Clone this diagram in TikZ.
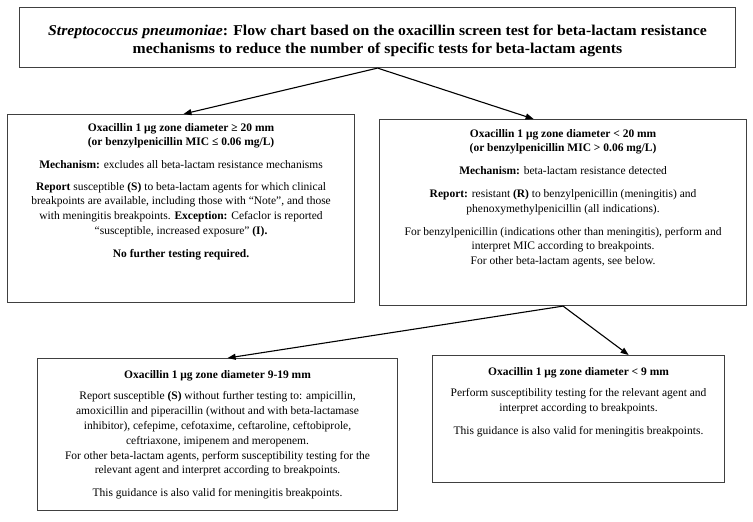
\documentclass[tikz,border=0pt]{standalone}
\usepackage{fontspec}
\setmainfont{Liberation Serif}
\newfontfamily\titlefont[FakeStretch=1.05]{Liberation Serif}
\usetikzlibrary{arrows.meta,calc}
\begin{document}
\begin{tikzpicture}[x=1pt,y=-1pt,
  box/.style={draw=black!75, line width=1.1pt, inner sep=0pt, anchor=north west},
  txt/.style={inner sep=0pt, align=center, anchor=north, font=\fontsize{11.5}{14.8}\selectfont},
  arr/.style={-{Triangle[length=8pt,width=6pt]}, line width=1.1pt, black}]
\fill[white] (0,0) rectangle (753,522);
\useasboundingbox (0,0) rectangle (753,522);

% boxes
\node[box, minimum width=716pt, minimum height=60pt] (T) at (19,7) {};
\node[box, minimum width=347pt, minimum height=188pt] (L) at (7,114) {};
\node[box, minimum width=367pt, minimum height=186pt] (R) at (379,119) {};
\node[box, minimum width=360pt, minimum height=152pt] (LL) at (37,358) {};
\node[box, minimum width=292pt, minimum height=127pt] (LR) at (432,355) {};

% texts
\node[txt, font=\titlefont\bfseries\fontsize{15}{18}\selectfont] (Tt) at ($(T.north)+(0,18)$)
  {\textit{Streptococcus pneumoniae}: Flow chart based on the oxacillin screen test for beta-lactam resistance\\
   mechanisms to reduce the number of specific tests for beta-lactam agents};

\node[txt] (Lt) at ($(L.north)+(0,9)$)
  {\textbf{Oxacillin 1 μg zone diameter ≥ 20 mm}\\
   \textbf{(or benzylpenicillin  MIC ≤ 0.06 mg/L)}\\[7.5pt]
   \textbf{Mechanism:} excludes all beta-lactam resistance mechanisms\\[7pt]
   \textbf{Report} susceptible \textbf{(S)} to beta-lactam agents for which clinical\\
   breakpoints are available, including those with “Note”, and those\\
   with meningitis breakpoints. \textbf{Exception:} Cefaclor is reported\\
   “susceptible, increased exposure” \textbf{(I).}\\[8pt]
   \textbf{No further testing required.}};

\node[txt] (Rt) at ($(R.north)+(0,10)$)
  {\textbf{Oxacillin 1 μg zone diameter < 20 mm}\\
   \textbf{(or benzylpenicillin  MIC > 0.06 mg/L)}\\[8pt]
   \textbf{Mechanism:} beta-lactam resistance detected\\[8pt]
   \textbf{Report:} resistant \textbf{(R)} to benzylpenicillin (meningitis) and\\
   phenoxymethylpenicillin (all indications).\\[8pt]
   For benzylpenicillin (indications other than meningitis), perform and\\
   interpret MIC according to breakpoints.\\
   For other beta-lactam agents, see below.};

\node[txt] (LLt) at ($(LL.north)+(0,12)$)
  {\textbf{Oxacillin 1 μg zone diameter 9-19 mm}\\[7pt]
   Report susceptible \textbf{(S)} without further testing to: ampicillin,\\
   amoxicillin and piperacillin (without and with beta-lactamase\\
   inhibitor), cefepime, cefotaxime, ceftaroline, ceftobiprole,\\
   ceftriaxone, imipenem and meropenem.\\
   For other beta-lactam agents, perform susceptibility testing for the\\
   relevant agent and interpret according to breakpoints.\\[8pt]
   This guidance is also valid for meningitis breakpoints.};

\node[txt] (LRt) at ($(LR.north)+(0,12)$)
  {\textbf{Oxacillin 1 μg zone diameter < 9 mm}\\[7pt]
   Perform susceptibility testing for the relevant agent and\\
   interpret according to breakpoints.\\[8pt]
   This guidance is also valid for meningitis breakpoints.};

% connectors
\draw[arr] (T.south) -- ($(L.north west)!0.507!(L.north east)$);
\draw[arr] (T.south) -- ($(R.north west)!0.42!(R.north east)$);
\draw[arr] (R.south) -- ($(LL.north west)!0.528!(LL.north east)$);
\draw[arr] (R.south) -- ($(LR.north west)!0.671!(LR.north east)$);
\end{tikzpicture}
\end{document}
